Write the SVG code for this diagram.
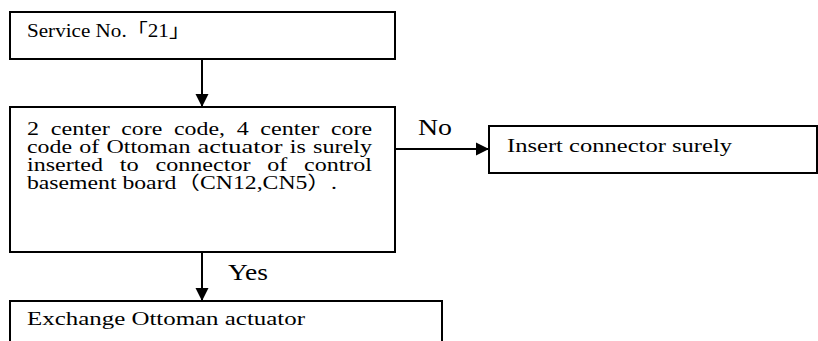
<svg xmlns="http://www.w3.org/2000/svg" width="818" height="341" viewBox="0 0 818 341">
<style>
.box{fill:#fff;stroke:#000;stroke-width:2}
.t{font-family:"Liberation Serif","Noto Sans CJK JP",serif;font-size:18.5px;fill:#000}
.lbl{font-family:"Liberation Serif",serif;font-size:24px;fill:#000}
.ln{stroke:#000;stroke-width:2;fill:none}
</style>
<defs>
<marker id="ah" markerUnits="userSpaceOnUse" markerWidth="14" markerHeight="14" viewBox="0 0 14 14" refX="13" refY="7" orient="auto">
<path d="M0,0.5 L13,7 L0,13.5 Z" fill="#000"/>
</marker>
</defs>
<rect width="818" height="341" fill="#fff"/>
<g id="n1">
<rect class="box" x="10" y="12" width="385" height="47"/>
<text class="t" x="27" y="37" textLength="163" lengthAdjust="spacingAndGlyphs">Service No.「21」</text>
</g>
<g id="n2">
<rect class="box" x="10" y="107" width="385" height="145"/>
<text class="t" x="27" y="135" textLength="12" lengthAdjust="spacingAndGlyphs">2</text>
<text class="t" x="50.7" y="135" textLength="59" lengthAdjust="spacingAndGlyphs">center</text>
<text class="t" x="121.3" y="135" textLength="41" lengthAdjust="spacingAndGlyphs">core</text>
<text class="t" x="174" y="135" textLength="51" lengthAdjust="spacingAndGlyphs">code,</text>
<text class="t" x="236.7" y="135" textLength="12" lengthAdjust="spacingAndGlyphs">4</text>
<text class="t" x="260.3" y="135" textLength="59" lengthAdjust="spacingAndGlyphs">center</text>
<text class="t" x="331" y="135" textLength="41" lengthAdjust="spacingAndGlyphs">core</text>
<text class="t" x="27" y="153" textLength="45" lengthAdjust="spacingAndGlyphs">code</text>
<text class="t" x="79.2" y="153" textLength="20" lengthAdjust="spacingAndGlyphs">of</text>
<text class="t" x="106.4" y="153" textLength="84" lengthAdjust="spacingAndGlyphs">Ottoman</text>
<text class="t" x="197.6" y="153" textLength="85" lengthAdjust="spacingAndGlyphs">actuator</text>
<text class="t" x="289.8" y="153" textLength="16" lengthAdjust="spacingAndGlyphs">is</text>
<text class="t" x="313" y="153" textLength="59" lengthAdjust="spacingAndGlyphs">surely</text>
<text class="t" x="27" y="171" textLength="76" lengthAdjust="spacingAndGlyphs">inserted</text>
<text class="t" x="119.75" y="171" textLength="19" lengthAdjust="spacingAndGlyphs">to</text>
<text class="t" x="155.5" y="171" textLength="95" lengthAdjust="spacingAndGlyphs">connector</text>
<text class="t" x="267.25" y="171" textLength="20" lengthAdjust="spacingAndGlyphs">of</text>
<text class="t" x="304" y="171" textLength="68" lengthAdjust="spacingAndGlyphs">control</text>
<text class="t" x="27" y="189" textLength="310" lengthAdjust="spacingAndGlyphs">basement board（CN12,CN5）.</text>
</g>
<g id="n3">
<rect class="box" x="489" y="126" width="328" height="47"/>
<text class="t" x="507" y="152" textLength="225" lengthAdjust="spacingAndGlyphs">Insert connector surely</text>
</g>
<g id="n4">
<rect class="box" x="10" y="301" width="432" height="50"/>
<text class="t" x="27" y="325" textLength="278" lengthAdjust="spacingAndGlyphs">Exchange Ottoman actuator</text>
</g>
<g id="connectors">
<line class="ln" x1="202" y1="59" x2="202" y2="107" marker-end="url(#ah)"/>
<line class="ln" x1="395" y1="149" x2="489" y2="149" marker-end="url(#ah)"/>
<line class="ln" x1="202" y1="252" x2="202" y2="301" marker-end="url(#ah)"/>
<text class="lbl" x="418" y="135" textLength="34" lengthAdjust="spacingAndGlyphs">No</text>
<text class="lbl" x="228" y="280" textLength="40" lengthAdjust="spacingAndGlyphs">Yes</text>
</g>
</svg>
